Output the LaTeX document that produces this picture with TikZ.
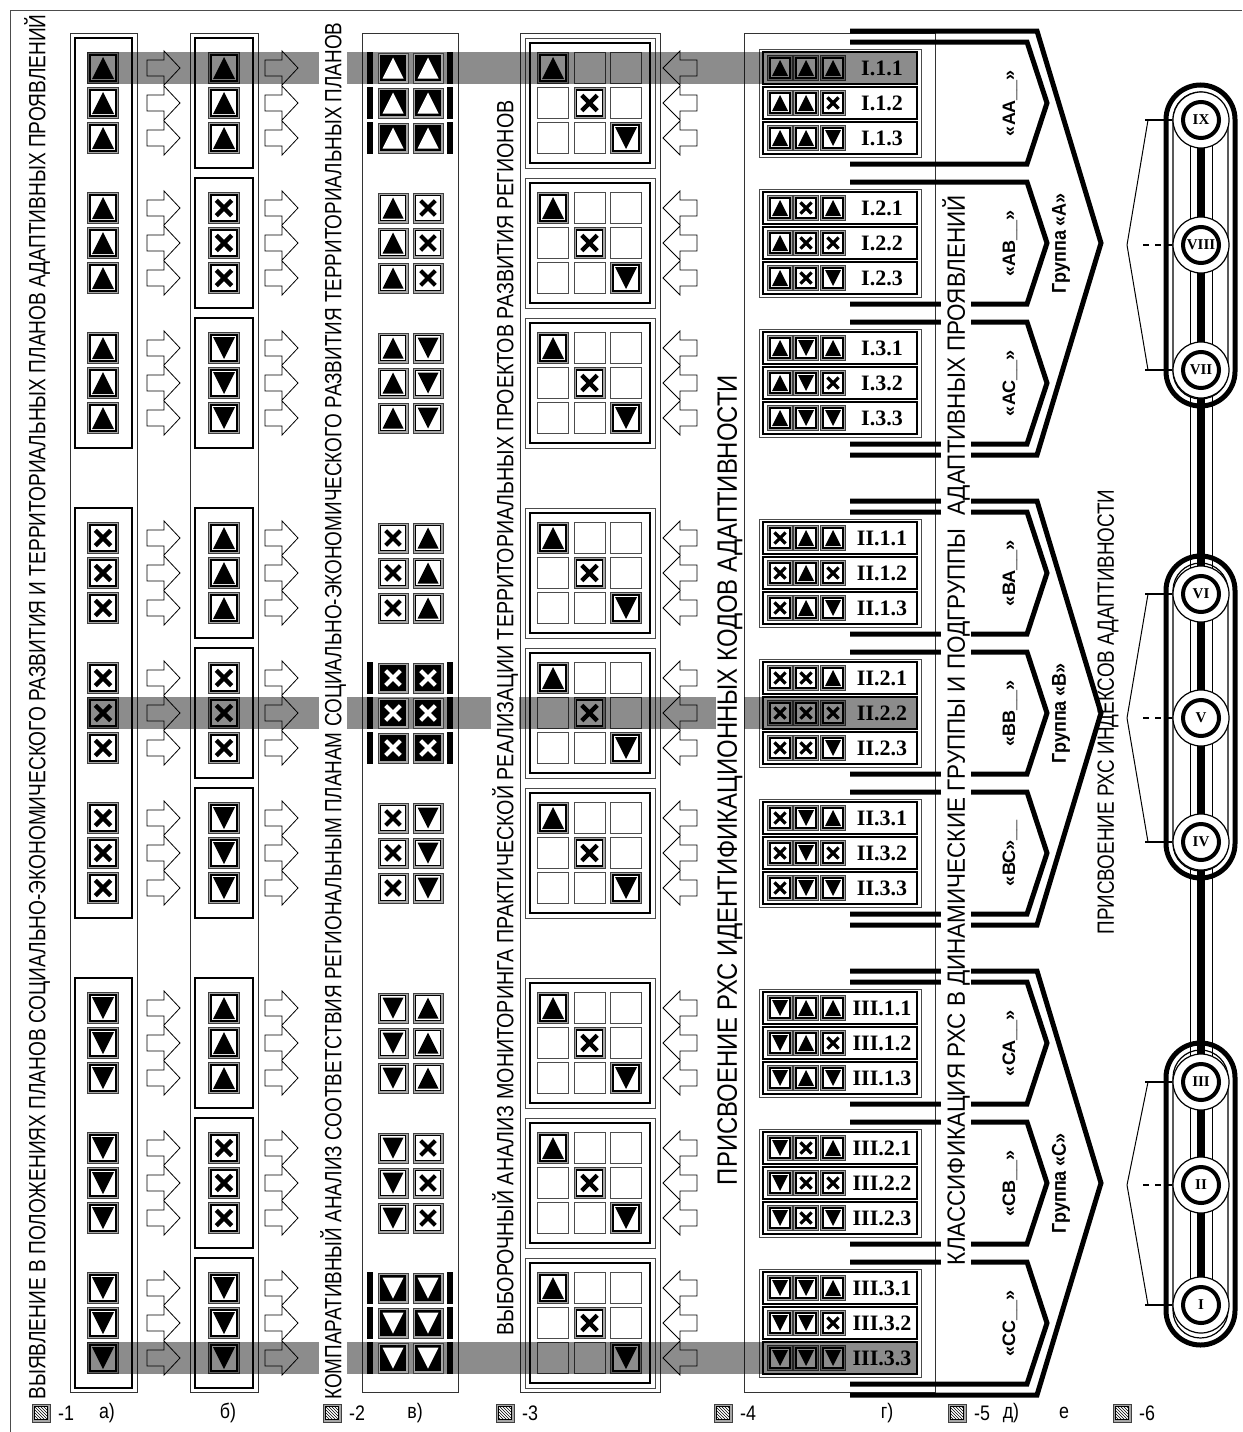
\documentclass[tikz,border=0pt]{standalone}
\usepackage{fontspec}
\setmainfont{Liberation Sans}
\newfontfamily\romfont{Liberation Serif}
\usetikzlibrary{patterns}

% symbol inside a square: 0 = up, 1 = cross, 2 = down
\newcommand{\glyph}[2]{%
  \pgfmathsetmacro{\gw}{0.4*#2}%
  \ifcase#1\relax
    \fill (0,-#2) -- (#2,#2) -- (-#2,#2) -- cycle;
  \or
    \draw[line width=\gw pt] (-0.7*#2,-0.7*#2) -- (0.7*#2,0.7*#2) (-0.7*#2,0.7*#2) -- (0.7*#2,-0.7*#2);
  \or
    \fill (0,#2) -- (#2,-#2) -- (-#2,-#2) -- cycle;
  \fi}

% framed sign: x, y, type, half size, inverted (0/1)
\newcommand{\icn}[5]{%
  \begin{scope}[shift={(#1,#2)}]
    \pgfmathsetmacro{\ih}{#4-2.5}%
    \pgfmathsetmacro{\gh}{#4-4.5}%
    \filldraw[iconrim] (-#4,-#4) rectangle (#4,#4);
    \ifnum#5=1\relax
      \filldraw[fill=black, draw=black, line width=1pt] (-\ih,-\ih) rectangle (\ih,\ih);
      \begin{scope}[white]\glyph{#3}{\gh}\end{scope}
    \else
      \filldraw[fill=white, draw=black, line width=1.2pt] (-\ih,-\ih) rectangle (\ih,\ih);
      \glyph{#3}{\gh}
    \fi
  \end{scope}}

\newcommand{\rarr}[2]{%
  \filldraw[hollow] (#1,#2-8) -- (#1+17,#2-8) -- (#1+17,#2-17) -- (#1+33,#2)
    -- (#1+17,#2+17) -- (#1+17,#2+8) -- (#1,#2+8) -- cycle;}
\newcommand{\larr}[2]{%
  \filldraw[hollow] (#1,#2) -- (#1+17,#2-17) -- (#1+17,#2-8) -- (#1+34,#2-8)
    -- (#1+34,#2+8) -- (#1+17,#2+8) -- (#1+17,#2+17) -- cycle;}

\newcommand{\legicon}[2]{%
  \filldraw[iconrim] (#1-9,#2-9) rectangle (#1+9,#2+9);
  \filldraw[fill=white, draw=black, line width=0.8pt] (#1-6.5,#2-6.5) rectangle (#1+6.5,#2+6.5);
  \fill[pattern=north west lines] (#1-6.5,#2-6.5) rectangle (#1+6.5,#2+6.5);}

\newcommand{\rnum}[1]{\ifcase#1\relax I\or II\or III\fi}

\begin{document}
\begin{tikzpicture}[x=1pt, y=-1pt,
    iconrim/.style={draw=black!75, fill=black!35, line width=0.6pt},
    colbox/.style={draw=black!80, line width=0.9pt},
    grpbox/.style={draw=black, line width=1.3pt},
    hollow/.style={draw=black, fill=white, line width=0.8pt},
    cell/.style={draw=black!70, line width=1pt},
    chev/.style={line width=5pt},
    hilite/.style={fill=black, opacity=0.45},
    vtxt/.style={rotate=90, fill=white, inner sep=1pt},
    code/.style={font=\romfont\bfseries\fontsize{22}{22}\selectfont, inner sep=0pt},
    numlab/.style={font=\romfont\bfseries\fontsize{15}{15}\selectfont, inner sep=0pt},
    sublab/.style={rotate=90, font=\bfseries\fontsize{18}{18}\selectfont, inner sep=0pt},
    legtxt/.style={font=\fontsize{21}{21}\selectfont, inner sep=0pt}
]
\fill[white] (0,0) rectangle (1242,1432);
\useasboundingbox (0,0) rectangle (1242,1432);

% frame and columns
\draw[line width=1pt, black!70] (10,1432) -- (10,10) -- (1242,10);
\draw[colbox] (70,33) rectangle (137,1392);
\draw[colbox] (190,33) rectangle (258,1392);
\draw[colbox] (362,33) rectangle (458,1392);
\draw[colbox] (520,33) rectangle (660,1392);
\draw[colbox] (744,33) rectangle (935,1392);

% groups, subgroups, rows
\foreach \g in {0,1,2} {
  \pgfmathsetmacro{\cg}{243+470*\g}
  \draw[grpbox] (75,\cg-205) rectangle (132,\cg+205);
  \draw[chev] (850,\cg-212) -- (1037,\cg-212) -- (1101,\cg) -- (1037,\cg+212) -- (850,\cg+212);
  \foreach \s in {0,1,2} {
    \pgfmathsetmacro{\cs}{\cg+140*(\s-1)}
    \draw[grpbox] (195,\cs-65) rectangle (253,\cs+65);
    \draw[cell] (525,\cs-65) rectangle (655,\cs+65);
    \draw[line width=2pt] (530,\cs-60) rectangle (650,\cs+60);
    \draw[cell] (759,\cs-54) rectangle (921,\cs+54);
    \draw[chev] (850,\cs-61) -- (1027,\cs-61) -- (1047,\cs) -- (1027,\cs+61) -- (850,\cs+61);
    \foreach \r in {0,1,2} {
      \pgfmathsetmacro{\yy}{\cs+35*(\r-1)}
      \icn{103}{\yy}{\g}{15.5}{0}
      \rarr{147}{\yy}
      \icn{224}{\yy}{\s}{15.5}{0}
      \rarr{265}{\yy}
      \ifnum\g=\s\relax\else
        \icn{393}{\yy}{\g}{15}{0}
        \icn{428}{\yy}{\s}{15}{0}
      \fi
      \foreach \c in {0,1,2} {
        \pgfmathsetmacro{\xc}{553+36.5*\c}
        \ifnum\c=\r\relax
          \icn{\xc}{\yy}{\r}{15.5}{0}
        \else
          \draw[cell] (\xc-15.5,\yy-15.5) rectangle (\xc+15.5,\yy+15.5);
        \fi
      }
      \larr{663}{\yy}
      \filldraw[fill=white, line width=1.3pt] (763,\yy-16) rectangle (917,\yy+16);
      \icn{780}{\yy}{\g}{12.5}{0}
      \icn{806}{\yy}{\s}{12.5}{0}
      \icn{833}{\yy}{\r}{12.5}{0}
      \pgfmathtruncatemacro{\sn}{\s+1}
      \pgfmathtruncatemacro{\rn}{\r+1}
      \node[code] (k\g\s\r) at (882,\yy) {\rnum{\g}.\sn.\rn};
    }
  }
}

% highlighted rows I.1.1, II.2.2, III.3.3
\foreach \g in {0,1,2} {
  \pgfmathsetmacro{\yy}{68+645*\g}
  \fill[hilite] (87,\yy-16) rectangle (918,\yy+16);
  \foreach \r in {0,1,2} {
    \pgfmathsetmacro{\yr}{68+610*\g+35*\r}
    \fill (367,\yr-16) rectangle (373,\yr+16);
    \fill (447,\yr-16) rectangle (453,\yr+16);
    \icn{393}{\yr}{\g}{15}{1}
    \icn{428}{\yr}{\g}{15}{1}
  }
}

% subgroup and group labels
\foreach \lab [count=\i from 0] in {«АА\_\_»,«АВ\_\_»,«АС\_\_»,«ВА\_\_»,«ВВ\_\_»,«ВС»\_\_,«СА\_\_»,«СВ\_\_»,«СС\_\_»} {
  \pgfmathsetmacro{\cs}{103+470*int(\i/3)+140*mod(\i,3)}
  \node[sublab] (sub\i) at (1010,\cs) {\resizebox{66pt}{\height}{\lab}};
}
\foreach \lt [count=\i from 0] in {А,В,С} {
  \node[sublab, font=\bfseries\fontsize{20}{20}\selectfont] (grp\i) at (1061,243+470*\i)
    {\resizebox{100pt}{\height}{Группа «\lt»}};
}

% index chains
\draw[line width=8pt] (1201,120) -- (1201,1305);
\draw[line width=1pt] (1190,120) -- (1190,1305) (1212,120) -- (1212,1305);
\foreach \ta/\tb/\ya/\yb/\yc/\na/\nb/\nc in
  {85/406/120/245/370/IX/VIII/VII, 556/878/594/718/842/VI/V/IV, 1043/1345/1082/1185/1305/III/II/I} {
  \draw[line width=5pt, rounded corners=34.5pt] (1166,\ta) rectangle (1235,\tb);
  \draw[line width=1.2pt, rounded corners=27.5pt] (1173,\ta+7) rectangle (1228,\tb-7);
  \draw[line width=1pt] (1166,\ya) -- (1148,\ya) -- (1127,\yb) -- (1148,\yc) -- (1166,\yc);
  \draw[line width=2pt] (1145,\ya) -- (1172,\ya) (1145,\yc) -- (1172,\yc);
  \draw[line width=1.5pt, dash pattern=on 6pt off 6pt] (1143,\yb) -- (1172,\yb);
  \foreach \yy/\nn in {\ya/\na, \yb/\nb, \yc/\nc} {
    \filldraw[fill=white, line width=1.2pt] (1201,\yy) circle (28pt);
    \draw[line width=4pt] (1201,\yy) circle (18pt);
    \node[numlab] (n\nn) at (1201,\yy) {\nn};
  }
}

% column titles
\node[vtxt, font=\fontsize{23.5}{24}\selectfont] (t1) at (37,707)
  {\resizebox{1385pt}{\height}{ВЫЯВЛЕНИЕ В ПОЛОЖЕНИЯХ ПЛАНОВ СОЦИАЛЬНО-ЭКОНОМИЧЕСКОГО РАЗВИТИЯ И ТЕРРИТОРИАЛЬНЫХ ПЛАНОВ АДАПТИВНЫХ ПРОЯВЛЕНИЙ}};
\node[vtxt, font=\fontsize{23.5}{24}\selectfont] (t2) at (333,711)
  {\resizebox{1377pt}{\height}{КОМПАРАТИВНЫЙ АНАЛИЗ СООТВЕТСТВИЯ РЕГИОНАЛЬНЫМ ПЛАНАМ СОЦИАЛЬНО-ЭКОНОМИЧЕСКОГО РАЗВИТИЯ ТЕРРИТОРИАЛЬНЫХ ПЛАНОВ}};
\node[vtxt, font=\fontsize{23.5}{24}\selectfont] (t3) at (505,718)
  {\resizebox{1235pt}{\height}{ВЫБОРОЧНЫЙ АНАЛИЗ МОНИТОРИНГА ПРАКТИЧЕСКОЙ РЕАЛИЗАЦИИ ТЕРРИТОРИАЛЬНЫХ ПРОЕКТОВ РАЗВИТИЯ РЕГИОНОВ}};
\node[vtxt, font=\fontsize{28}{28}\selectfont] (t4) at (730,780)
  {\resizebox{810pt}{\height}{ПРИСВОЕНИЕ РХС ИДЕНТИФИКАЦИОННЫХ КОДОВ АДАПТИВНОСТИ}};
\node[vtxt, font=\fontsize{25}{25}\selectfont] (t5) at (956,730)
  {\resizebox{1070pt}{\height}{КЛАССИФИКАЦИЯ РХС В ДИНАМИЧЕСКИЕ ГРУППЫ И ПОДГРУППЫ~~АДАПТИВНЫХ ПРОЯВЛЕНИЙ}};
\node[rotate=90, inner sep=0pt, font=\fontsize{23.5}{24}\selectfont] (t6) at (1108,712)
  {\resizebox{445pt}{\height}{ПРИСВОЕНИЕ РХС ИНДЕКСОВ АДАПТИВНОСТИ}};

% legend
\foreach \x/\t [count=\i] in {41/-1, 332/-2, 505/-3, 723/-4, 957/-5, 1122/-6} {
  \legicon{\x}{1413}
  \node[legtxt, anchor=west] (leg\i) at (\x+17,1413) {\scalebox{0.85}[1]{\t}};
}
\foreach \x/\t [count=\i] in {107/а), 228/б), 415/в), 887/г), 1011/д), 1064/е} {
  \node[legtxt] (pos\i) at (\x,1413) {\scalebox{0.85}[1]{\t}};
}
\end{tikzpicture}
\end{document}
